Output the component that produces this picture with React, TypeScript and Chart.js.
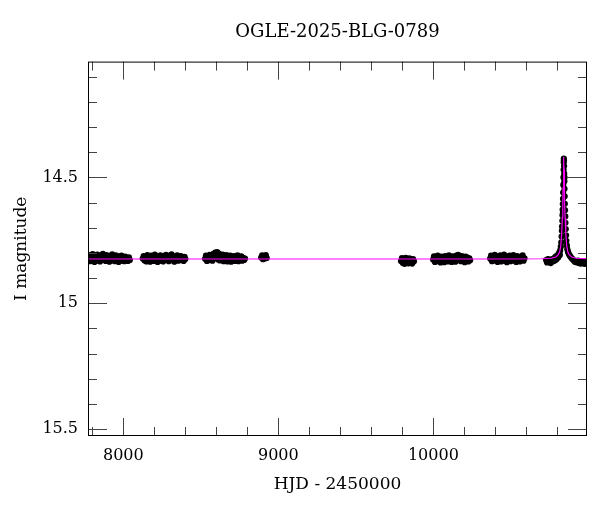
import React, { useEffect, useRef } from "react";
import { Chart, registerables } from "chart.js";

Chart.register(...registerables);

const TITLE = "OGLE-2025-BLG-0789";
const X_LABEL = "HJD - 2450000";
const Y_LABEL = "I magnitude";

const X_MIN = 7772;
const X_MAX = 10991;
const Y_MIN = 14.04;
const Y_MAX = 15.527;

const X_MAJOR = [8000, 9000, 10000];
const X_MINOR = [7800, 8200, 8400, 8600, 8800, 9200, 9400, 9600, 9800, 10200, 10400, 10600, 10800];
const Y_MAJOR = [14.5, 15, 15.5];
const Y_MINOR = [14.1, 14.2, 14.3, 14.4, 14.6, 14.7, 14.8, 14.9, 15.1, 15.2, 15.3, 15.4];

// Observed photometry, [HJD-2450000, I mag]
const season1: [number, number][] = [
  [7772, 14.824], [7778, 14.809], [7784, 14.833], [7790, 14.817], [7796, 14.829], [7802, 14.805],
  [7808, 14.821], [7814, 14.836], [7820, 14.813], [7826, 14.826], [7832, 14.807], [7838, 14.831],
  [7844, 14.818], [7850, 14.834], [7856, 14.811], [7862, 14.823], [7868, 14.804], [7874, 14.828],
  [7880, 14.815], [7886, 14.832], [7892, 14.809], [7898, 14.825], [7904, 14.819], [7910, 14.835],
  [7916, 14.812], [7922, 14.827], [7928, 14.806], [7934, 14.830], [7940, 14.816], [7946, 14.833],
  [7952, 14.810], [7958, 14.824], [7964, 14.820], [7970, 14.836], [7976, 14.813], [7982, 14.828],
  [7988, 14.811], [7994, 14.831], [8000, 14.818], [8006, 14.833], [8012, 14.814], [8018, 14.826],
  [8024, 14.821], [8030, 14.832], [8036, 14.817], [8042, 14.828],
];
const season2: [number, number][] = [
  [8125, 14.822], [8131, 14.812], [8137, 14.830], [8143, 14.815], [8149, 14.834], [8155, 14.809],
  [8161, 14.826], [8167, 14.818], [8173, 14.835], [8179, 14.811], [8185, 14.828], [8191, 14.816],
  [8197, 14.832], [8203, 14.807], [8209, 14.825], [8215, 14.819], [8221, 14.836], [8227, 14.813],
  [8233, 14.829], [8239, 14.810], [8245, 14.831], [8251, 14.817], [8257, 14.834], [8263, 14.812],
  [8269, 14.827], [8275, 14.808], [8281, 14.824], [8287, 14.815], [8293, 14.833], [8299, 14.811],
  [8305, 14.826], [8311, 14.806], [8317, 14.829], [8323, 14.818], [8329, 14.835], [8335, 14.813],
  [8341, 14.827], [8347, 14.810], [8353, 14.831], [8359, 14.816], [8365, 14.829], [8371, 14.812],
  [8377, 14.826], [8383, 14.819], [8389, 14.832], [8395, 14.815], [8400, 14.824],
];
const season3: [number, number][] = [
  [8527, 14.823], [8533, 14.811], [8539, 14.832], [8545, 14.815], [8551, 14.829], [8557, 14.808],
  [8563, 14.826], [8569, 14.812], [8575, 14.831], [8581, 14.804], [8587, 14.821], [8593, 14.799],
  [8599, 14.815], [8605, 14.797], [8611, 14.826], [8617, 14.803], [8623, 14.830], [8629, 14.810],
  [8635, 14.827], [8641, 14.807], [8647, 14.833], [8653, 14.814], [8659, 14.828], [8665, 14.809],
  [8671, 14.834], [8677, 14.816], [8683, 14.829], [8689, 14.811], [8695, 14.835], [8701, 14.818],
  [8707, 14.826], [8713, 14.812], [8719, 14.832], [8725, 14.815], [8731, 14.829], [8737, 14.810],
  [8743, 14.833], [8749, 14.817], [8755, 14.827], [8761, 14.813], [8767, 14.831], [8773, 14.819],
  [8779, 14.828], [8785, 14.822],
];
const season4: [number, number][] = [
  [8889, 14.818], [8895, 14.810], [8901, 14.825], [8907, 14.813], [8913, 14.822], [8919, 14.809],
  [8925, 14.820],
];
const season5: [number, number][] = [
  [9791, 14.832], [9797, 14.820], [9803, 14.840], [9809, 14.825], [9815, 14.843], [9821, 14.819],
  [9827, 14.836], [9833, 14.823], [9839, 14.841], [9845, 14.821], [9851, 14.838], [9857, 14.826],
  [9863, 14.842], [9869, 14.824], [9875, 14.833],
];
const season6: [number, number][] = [
  [9998, 14.826], [10004, 14.813], [10010, 14.836], [10016, 14.817], [10022, 14.833], [10028, 14.811],
  [10034, 14.829], [10040, 14.819], [10046, 14.838], [10052, 14.814], [10058, 14.831], [10064, 14.820],
  [10070, 14.837], [10076, 14.812], [10082, 14.828], [10088, 14.816], [10094, 14.834], [10100, 14.810],
  [10106, 14.827], [10112, 14.818], [10118, 14.836], [10124, 14.813], [10130, 14.830], [10136, 14.815],
  [10142, 14.835], [10148, 14.811], [10154, 14.826], [10160, 14.808], [10166, 14.829], [10172, 14.817],
  [10178, 14.833], [10184, 14.812], [10190, 14.828], [10196, 14.819], [10202, 14.837], [10208, 14.814],
  [10214, 14.830], [10220, 14.818], [10226, 14.834], [10232, 14.821], [10237, 14.829],
];
const season7: [number, number][] = [
  [10366, 14.822], [10372, 14.811], [10378, 14.833], [10384, 14.816], [10390, 14.830], [10396, 14.808],
  [10402, 14.827], [10408, 14.818], [10414, 14.836], [10420, 14.813], [10426, 14.829], [10432, 14.810],
  [10438, 14.834], [10444, 14.817], [10450, 14.826], [10456, 14.807], [10462, 14.831], [10468, 14.819],
  [10474, 14.837], [10480, 14.814], [10486, 14.828], [10492, 14.811], [10498, 14.833], [10504, 14.816],
  [10510, 14.830], [10516, 14.809], [10522, 14.826], [10528, 14.820], [10534, 14.836], [10540, 14.812],
  [10546, 14.829], [10552, 14.815], [10558, 14.834], [10564, 14.818], [10570, 14.827], [10576, 14.810],
  [10582, 14.831], [10588, 14.821],
];
const season8: [number, number][] = [
  [10727, 14.828], [10733, 14.838], [10739, 14.824], [10745, 14.836], [10751, 14.827], [10757, 14.840],
  [10763, 14.825], [10769, 14.834], [10775, 14.822], [10781, 14.831], [10787, 14.815], [10793, 14.826],
  [10799, 14.810], [10805, 14.818], [10811, 14.800], [10816, 14.808], [10818, 14.790], [10822, 14.775],
  [10825, 14.758], [10827, 14.735], [10829, 14.712], [10830, 14.695], [10832, 14.672], [10833, 14.650],
  [10834, 14.628], [10835, 14.606], [10836, 14.585], [10836, 14.640], [10837, 14.560], [10838, 14.530],
  [10839, 14.500], [10840, 14.470], [10841, 14.440], [10841.5, 14.425], [10842, 14.432], [10843, 14.455],
  [10844, 14.485], [10845, 14.515], [10846, 14.545], [10846, 14.500], [10847, 14.575], [10848, 14.605],
  [10849, 14.630], [10851, 14.655], [10852, 14.680], [10854, 14.705], [10856, 14.730], [10858, 14.752],
  [10861, 14.770], [10864, 14.785], [10868, 14.795], [10873, 14.803], [10879, 14.810], [10885, 14.815],
  [10891, 14.820], [10897, 14.824], [10903, 14.828], [10909, 14.832], [10915, 14.836], [10921, 14.832],
  [10927, 14.838], [10933, 14.830], [10939, 14.840], [10945, 14.834], [10951, 14.842], [10957, 14.833],
  [10963, 14.840], [10969, 14.836], [10975, 14.843], [10981, 14.835], [10987, 14.841],
];

// Microlensing model curve
const model: [number, number][] = [
  [7700, 14.824], [10500, 14.824], [10700, 14.823], [10760, 14.821], [10790, 14.816], [10805, 14.808],
  [10815, 14.795], [10822, 14.772], [10828, 14.720], [10832, 14.660], [10835, 14.600], [10837, 14.540],
  [10839, 14.470], [10840, 14.435], [10841, 14.419], [10842, 14.435], [10843, 14.470], [10845, 14.540],
  [10847, 14.600], [10850, 14.660], [10854, 14.720], [10860, 14.772], [10867, 14.795], [10877, 14.808],
  [10892, 14.816], [10922, 14.821], [11000, 14.823],
];

const observed = [
  ...season1, ...season2, ...season3, ...season4,
  ...season5, ...season6, ...season7, ...season8,
];

const FONT = "'DejaVu Serif', 'Liberation Serif', serif";

const framePlugin = {
  id: "frameTicks",
  afterDraw(chart: any) {
    const { ctx, chartArea: a, scales } = chart;
    const xs = scales.x;
    const ys = scales.y;
    ctx.save();
    ctx.lineWidth = 1;
    ctx.strokeStyle = "#444";
    ctx.beginPath();
    const vtick = (v: number, len: number) => {
      const x = Math.round(xs.getPixelForValue(v)) + 0.5;
      ctx.moveTo(x, a.bottom);
      ctx.lineTo(x, a.bottom - len);
      ctx.moveTo(x, a.top);
      ctx.lineTo(x, a.top + len);
    };
    const htick = (v: number, len: number) => {
      const y = Math.round(ys.getPixelForValue(v)) + 0.5;
      ctx.moveTo(a.left, y);
      ctx.lineTo(a.left + len, y);
      ctx.moveTo(a.right, y);
      ctx.lineTo(a.right - len, y);
    };
    X_MAJOR.forEach((v) => vtick(v, 18));
    X_MINOR.forEach((v) => vtick(v, 9));
    Y_MAJOR.forEach((v) => htick(v, 19));
    Y_MINOR.forEach((v) => htick(v, 9));
    ctx.stroke();
    ctx.strokeStyle = "#000";
    ctx.strokeRect(a.left + 0.5, a.top + 0.5, a.right - a.left - 1, a.bottom - a.top - 1);
    ctx.restore();
  },
};

export default function App() {
  const ref = useRef<HTMLCanvasElement | null>(null);

  useEffect(() => {
    if (!ref.current) return;
    const chart = new Chart(ref.current, {
      type: "scatter",
      data: {
        datasets: [
          {
            label: "model",
            data: model.map(([x, y]) => ({ x, y })),
            showLine: true,
            borderColor: "#ff00ff",
            borderWidth: 1.2,
            pointRadius: 0,
            fill: false,
            clip: 0,
          } as any,
          {
            label: "data",
            data: observed.map(([x, y]) => ({ x, y })),
            backgroundColor: "#000",
            borderColor: "#000",
            borderWidth: 0,
            pointRadius: 3.1,
            clip: 0,
          } as any,
        ],
      },
      options: {
        animation: false,
        responsive: false,
        events: [],
        layout: { padding: { left: 0, right: 13, top: 0, bottom: 0 } },
        plugins: {
          legend: { display: false },
          tooltip: { enabled: false },
          title: {
            display: true,
            fullSize: false,
            text: TITLE,
            color: "#000",
            font: { family: FONT, size: 18, weight: "normal" },
            padding: { top: 22, bottom: 18 },
          },
        },
        scales: {
          x: {
            type: "linear",
            min: X_MIN,
            max: X_MAX,
            grid: { display: false, drawTicks: false },
            border: { display: false },
            afterBuildTicks: (s: any) => {
              s.ticks = X_MAJOR.map((v) => ({ value: v }));
            },
            afterFit: (s: any) => {
              s.height = 76;
            },
            ticks: {
              color: "#000",
              font: { family: FONT, size: 16 },
              padding: 10,
              maxRotation: 0,
              callback: (v: any) => String(v),
            },
            title: {
              display: true,
              text: X_LABEL,
              color: "#000",
              font: { family: FONT, size: 17 },
              padding: { top: 0, bottom: 17 },
            },
          },
          y: {
            type: "linear",
            reverse: true,
            min: Y_MIN,
            max: Y_MAX,
            grid: { display: false, drawTicks: false },
            border: { display: false },
            afterBuildTicks: (s: any) => {
              s.ticks = Y_MAJOR.map((v) => ({ value: v }));
            },
            afterFit: (s: any) => {
              s.width = 88;
            },
            ticks: {
              color: "#000",
              font: { family: FONT, size: 16 },
              padding: 10,
              callback: (v: any) => String(v),
            },
            title: {
              display: true,
              text: Y_LABEL,
              color: "#000",
              font: { family: FONT, size: 17 },
              padding: { top: 11, bottom: 0 },
            },
          },
        },
      },
      plugins: [framePlugin],
    });
    return () => chart.destroy();
  }, []);

  return (
    <div style={{ position: "absolute", left: 0, top: 0, width: 600, height: 512, background: "#fff" }}>
      <canvas ref={ref} width={600} height={512} style={{ display: "block" }} />
    </div>
  );
}
